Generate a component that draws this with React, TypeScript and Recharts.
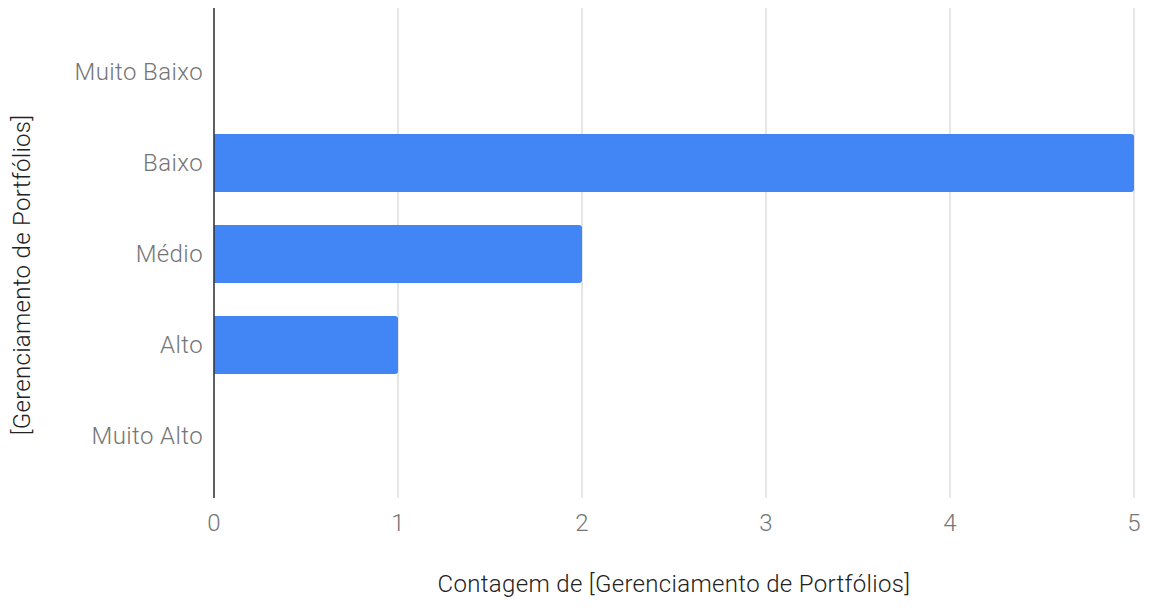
import React from "react";
import { BarChart, Bar, XAxis, YAxis, CartesianGrid, Label } from "recharts";

// ── Data ──────────────────────────────────────────────────────────────────────

const CATEGORIES = ["Muito Baixo", "Baixo", "Médio", "Alto", "Muito Alto"];
const COUNTS = [0, 5, 2, 1, 0];
const X_TICKS = [0, 1, 2, 3, 4, 5];

const data = CATEGORIES.map((name, i) => ({ name, count: COUNTS[i] }));

const FONT = "Roboto, 'Noto Sans', sans-serif";
const TICK = { fontSize: 24, fill: "#757575", fontFamily: FONT, fontWeight: 300, letterSpacing: 0.4 };

// ── Rotated y title, a little below the plot centre like the source ─────────

function YTitle({ viewBox }: { viewBox?: { x: number; y: number; width: number; height: number } }) {
  if (!viewBox) return null;
  const cx = 14;
  const cy = viewBox.y + viewBox.height / 2 + 22;
  return (
    <text
      x={cx}
      y={cy}
      transform={`rotate(-90, ${cx}, ${cy})`}
      textAnchor="middle"
      dominantBaseline="central"
      fontSize={24}
      fontWeight={300}
      letterSpacing={0.3}
      fill="#222"
      fontFamily={FONT}
    >
      [Gerenciamento de Portfólios]
    </text>
  );
}

export default function App() {
  return (
    <div style={{ width: 1134, height: 600, background: "#fff" }}>
      <BarChart
        width={1134}
        height={600}
        data={data}
        layout="vertical"
        margin={{ top: 0, right: 8, left: 0, bottom: 0 }}
      >
        <CartesianGrid vertical horizontal={false} stroke="#cccccc" />
        <XAxis
          type="number"
          domain={[0, 5]}
          ticks={X_TICKS}
          tick={TICK}
          axisLine={false}
          tickLine={false}
          tickMargin={10}
          height={110}
        >
          <Label
            value="Contagem de [Gerenciamento de Portfólios]"
            position="insideBottom"
            offset={16}
            style={{ fontSize: 24, fontWeight: 300, letterSpacing: 0.33, fill: "#222", fontFamily: FONT }}
          />
        </XAxis>
        <YAxis
          type="category"
          dataKey="name"
          width={206}
          tick={TICK}
          axisLine={{ stroke: "#333333", strokeWidth: 1.5 }}
          tickLine={false}
          tickMargin={5}
          padding={{ top: 18, bottom: 17 }}
          label={<YTitle />}
        />
        <Bar
          dataKey="count"
          fill="#4285f4"
          barSize={58}
          radius={[0, 3, 3, 0]}
          isAnimationActive={false}
        />
      </BarChart>
    </div>
  );
}
